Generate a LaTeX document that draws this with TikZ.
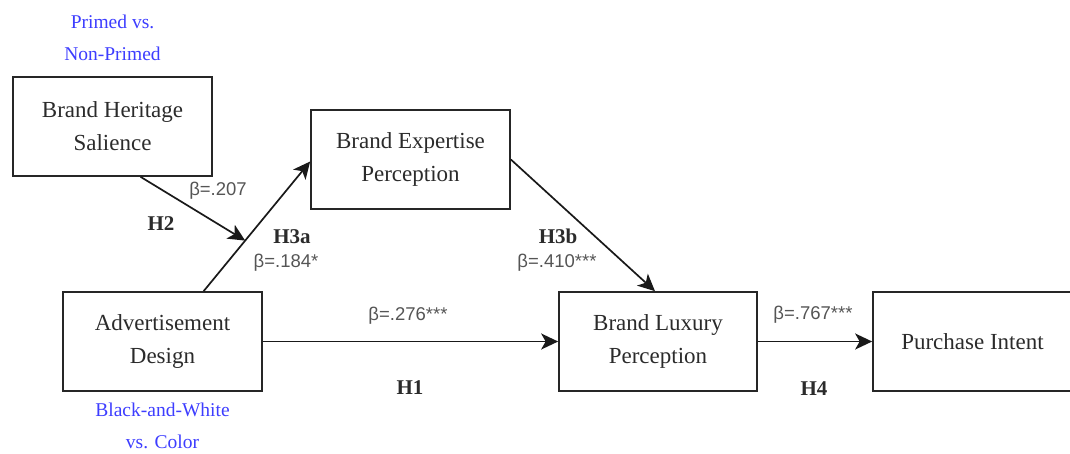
\documentclass[tikz,border=0pt]{standalone}
\usepackage{fontspec}
\setmainfont{Liberation Serif}
\newfontfamily\labfont{Liberation Sans}
\usetikzlibrary{arrows.meta,calc}
\definecolor{boxtext}{HTML}{2B2B2B}
\definecolor{betagray}{HTML}{555555}
\definecolor{condblue}{HTML}{3D3DFF}
\tikzset{
  varbox/.style={draw=black!85, line width=1.7pt, minimum width=199pt, minimum height=99pt,
    inner sep=0pt, align=center, text=boxtext, font=\fontsize{23}{33}\selectfont},
  conn/.style={line width=1.7pt, draw=black!90, -{Stealth[length=17pt,width=16pt,inset=4.5pt]}},
  betalab/.style={text=betagray, font=\labfont\fontsize{18.5}{22}\selectfont, inner sep=0pt},
  hlab/.style={text=boxtext, font=\bfseries\fontsize{21}{25}\selectfont, inner sep=0pt},
  condlab/.style={text=condblue, align=center, inner sep=0pt, font=\fontsize{19.5}{32}\selectfont}
}
\begin{document}
\begin{tikzpicture}[x=1pt,y=-1pt]
\useasboundingbox (0,0) rectangle (1070,453);
% boxes
\node[varbox] (heritage) at (112.5,126.5) {Brand Heritage\\Salience};
\node[varbox] (expertise) at (410.5,159.5) {Brand Expertise\\Perception};
\node[varbox] (ad) at (162.5,341.5) {Advertisement\\Design};
\node[varbox, minimum width=198pt] (luxury) at (658,341.5) {Brand Luxury\\Perception};
\node[varbox] (purchase) at (972.5,341.5) {Purchase Intent};
% condition labels
\node[condlab] (primed) at (112.5,38) {Primed vs.\\Non-Primed};
\node[condlab] (bw) at (162.5,426) {Black-and-White\\vs. Color};
% connector anchor points
\coordinate (adtop) at ($(ad.north west)!0.705!(ad.north east)$);
\coordinate (exin) at ($(expertise.west)+(0,2)$);
\coordinate (hbot) at ($(heritage.south west)!0.64!(heritage.south east)$);
\coordinate (mod) at ($(adtop)!0.39!(exin)$);
\coordinate (luxtop) at ($(luxury.north)+(-3,0)$);
% connectors
\draw[conn] (adtop) -- (exin);
\draw[conn] (hbot) -- (mod);
\draw[conn] (expertise.east) -- (luxtop);
\draw[conn] (ad.east) -- (luxury.west);
\draw[conn] (luxury.east) -- (purchase.west);
% labels
\node[betalab] (b207) at (218,191) {β=.207};
\node[hlab] (h2) at (161,224) {H2};
\node[hlab] (h3a) at (292,237) {H3a};
\node[betalab] (b184) at (286,263) {β=.184*};
\node[hlab] (h3b) at (558,236) {H3b};
\node[betalab] (b410) at (557,263) {β=.410***};
\node[betalab] (b276) at (408,316) {β=.276***};
\node[hlab] (h1) at (410,388) {H1};
\node[betalab] (b767) at (813,315) {β=.767***};
\node[hlab] (h4) at (814,389) {H4};
\end{tikzpicture}
\end{document}
